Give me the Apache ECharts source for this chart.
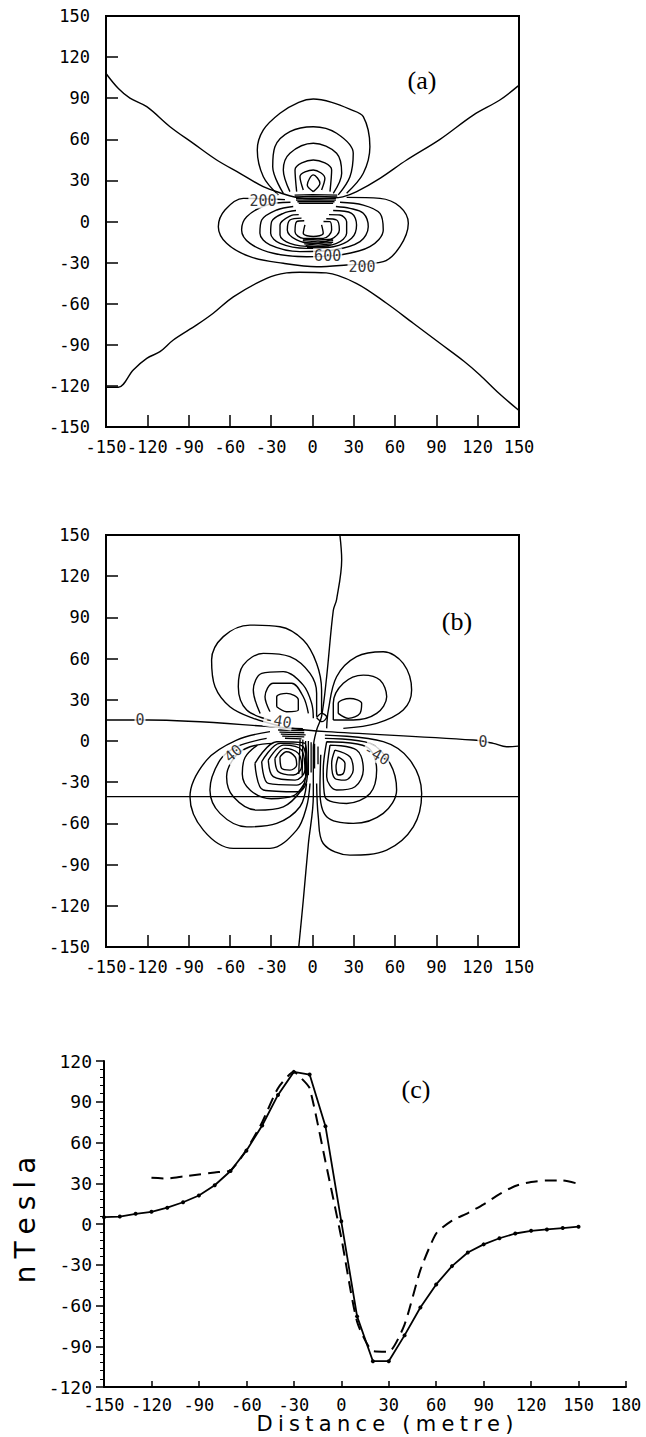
<!DOCTYPE html>
<html>
<head>
<meta charset="utf-8">
<script src="https://cdn.jsdelivr.net/npm/echarts@6/dist/echarts.min.js"></script>
<style>
  html, body { margin: 0; padding: 0; background: #fff; }
  #main { width: 646px; height: 1437px; }
</style>
</head>
<body>
<div id="main"></div>
<script>
// ---- panel (a): contour lines, [x, y] in metres ----
var aZeroUpper = [[-150,108],[-141,97],[-132.6,90],[-120.4,83.8],[-103.5,69.2],[-86.6,57],[-69.6,44.9],[-52.7,35.2],[-35.8,25.4],[-23.6,21],[-12,17.6],[0,16.5],[12,17],[22,18],[32.1,21.8],[49,31.5],[68.4,44.9],[92.6,60],[116.8,77.7],[136.1,88.7],[149.4,99]];
var aZeroLower = [[-150,-121],[-141,-121],[-130.2,-108.4],[-120.4,-99.9],[-110.8,-95],[-101.1,-86.5],[-84.1,-75.5],[-72.1,-67],[-57.5,-55],[-33.3,-41.5],[-18.8,-37.5],[-9.4,-37],[10,-37.5],[31.8,-45.1],[53.8,-59.7],[73.2,-74.3],[92.6,-88.9],[110,-102],[121.6,-112],[135,-125],[150,-138]];
var aUp1 = [[-24.8,19.4],[-35.7,32.7],[-40.1,52.2],[-35.7,66.8],[-23.6,79],[-10,87],[0.6,89.4],[14,87],[27,82],[36.9,76.5],[41.7,54.6],[36.9,35.2],[24.8,20.6]];
var aUp2 = [[-21.2,20.6],[-28.9,40],[-27.3,54.6],[-16.4,65.6],[0.6,69.2],[17.5,64.4],[29.6,49.8],[27.2,32.7],[18.7,19.4]];
var aUp3 = [[-16.4,21.8],[-21.2,37.6],[-16.4,49.8],[0.6,57.1],[17.5,49.8],[21.2,35.2],[15.1,20.6]];
var aUp4 = [[-11.5,21.8],[-12.7,37.6],[0.6,44.9],[13.9,37.6],[12.7,21.8]];
var aUp5 = [[-6.7,23],[-9.1,32.7],[0.6,37.6],[9,31.5],[6.6,23]];
var aUp6 = [[0.6,21.8],[-3.8,26.6],[0.6,34],[5.4,27.9],[0.6,21.8]];
var aLo1 = [[24.8,17.6],[49,16.9],[63.5,10.8],[69.6,-1.3],[63.5,-18.4],[51.4,-29.3],[24.8,-31.7],[3,-33],[-21.2,-30.5],[-45.4,-25.7],[-62.4,-15.9],[-68.4,-3.8],[-63.6,8.4],[-50.3,16.9],[-20,16]];
var aLo2 = [[20,14],[36.9,12],[49,5.9],[51.4,-6.2],[41.7,-18.4],[20,-24.4],[-4.3,-25.7],[-28.5,-23.2],[-45.4,-16],[-51.5,-6.2],[-47.8,3.5],[-33.3,12],[-16,14]];
var aLo3 = [[17,11],[27.2,9.6],[36.9,6],[40.5,-3.8],[34.5,-14.7],[15.1,-20.8],[-9.1,-22],[-30.9,-17.1],[-38.2,-8.6],[-36.9,1.1],[-26,8.4],[-14,11]];
var aLo4 = [[15,8],[28.4,6],[32,-2.5],[28.4,-12.3],[15.1,-18.4],[-4.3,-19.6],[-23.6,-16],[-30.4,-8.6],[-29.7,-0.1],[-21.2,6],[-12,8]];
var aLo5 = [[12,5],[20,4.7],[24.8,-0.1],[24.8,-8.6],[17.5,-16],[0.6,-18.4],[-16.4,-16],[-23.6,-9.8],[-23.6,-2.5],[-16.4,4],[-10,5]];
var aLo6 = [[10,2],[17.5,1.1],[19.5,-6.2],[12.7,-13.5],[0.6,-16],[-11.5,-13.5],[-18.3,-6.2],[-16.4,1.1],[-8,2.5]];
var aLo7 = [[8,0],[12.7,-0.1],[13.9,-6.2],[7.8,-12.3],[-6.7,-12.3],[-12.7,-7.4],[-11.5,-0.1],[-6,0.5]];
var aLo8 = [[6.6,-2.5],[7.8,-8.6],[0.6,-11],[-6.7,-8.6],[-5.5,-2.5]];
// dense bands where the contours crowd together
var aBandTop = [
    [[-13,19.2],[0,19.6],[18,19.2]], [[-13,18],[0,18.3],[18,18]], [[-12,16.8],[0,17],[17,16.8]],
    [[-12,15.6],[0,15.8],[17,15.6]], [[-11,14.4],[0,14.5],[16,14.4]], [[-10,13.2],[0,13.3],[15,13.2]]
];
var aBandBottom = [
    [[-7,-12.8],[4,-13.5],[15,-12.8]], [[-7,-14],[4,-14.8],[15,-14]], [[-7,-15.2],[4,-16],[15,-15.2]],
    [[-6,-16.4],[4,-17.2],[14,-16.4]], [[-5,-17.6],[4,-18.4],[13,-17.6]], [[-4,-18.8],[4,-19.5],[12,-18.8]]
];
var aLabels = [[-36,15,'200',0], [36,-33,'200',0], [11,-25,'600',0]];

// ---- panel (b) ----
var bVertical = [[19.9,150],[21.2,132],[17.5,103],[15.1,95],[10.3,47],[6.6,18],[3,8],[0.6,-5],[0.6,-40],[-3,-75],[-6.7,-116],[-10,-150]];
var bHorizontal = [[-150,15.3],[-119.3,15.3],[-23.6,10],[-5,8],[10.3,6.8],[116.8,0.7],[131.3,-1.7],[141,-4.2],[149.4,-3.7]];
var bFortyLine = [[-150,-40.5],[150,-40.5]];
var bUL1 = [[-23.6,10.9],[-43,16.5],[-60,25],[-70.8,39.5],[-73.3,58.9],[-64.8,76],[-45.4,84.4],[-23.6,83.2],[-6.7,73.5],[3,56.5],[6.6,37.1],[6.6,20.1]];
var bUL2 = [[-30,15],[-47.8,22.5],[-53.9,39.5],[-50.3,55.3],[-35.7,63.8],[-16.4,61.4],[-1.8,49.2],[3,34.7],[3,17.7]];
var bUL3 = [[-38,20],[-43,37.1],[-36.9,49.2],[-21.2,50.5],[-6.7,40.7],[-0.6,27.4],[0.6,16.5]];
var bUL4 = [[-30.9,21.3],[-34.5,32.2],[-28.5,42],[-15.2,42],[-6.7,32.2],[-3,20.1]];
var bUL5 = [[-26,24.9],[-26,32.2],[-18.8,34.7],[-10.3,29.8],[-10.3,22.5],[-18.8,21.3],[-26,24.9]];
var bUR1 = [[10.3,9.2],[11.5,22.5],[17.5,46.8],[32,61.4],[51.4,65],[65.9,56.5],[72,37.1],[65.9,22.5],[46.6,12.8],[22.4,9.2]];
var bUR2 = [[15.1,15.3],[15.1,27.4],[22.4,42],[36.9,48],[49,44.4],[53.9,32.2],[46.6,20.1],[29.6,15.3],[15.1,15.3]];
var bUR3 = [[18.7,20.1],[18.7,27.4],[27.2,31],[35.7,27.4],[34.5,20.1],[26,16.5],[18.7,20.1]];
var bLL1 = [[-30.9,6.8],[-55.1,0.7],[-76.9,-13.9],[-89,-40.6],[-79.3,-64.9],[-57.5,-78.2],[-30.9,-78.2],[-11.5,-64.9],[-4.3,-47.9],[-1.8,-30.9]];
var bLL2 = [[-33.3,1.9],[-55.1,-4.2],[-67.2,-13.9],[-74.5,-35.7],[-67.2,-52.7],[-47.8,-62.5],[-26,-60],[-9.1,-47.9],[-4.3,-30.9]];
var bLL3 = [[-28.5,-1.7],[-45.4,-4.2],[-56.3,-11.5],[-62.4,-26],[-57.5,-40.6],[-40.6,-50.3],[-21.2,-47.9],[-7.9,-35.7],[-5,-26]];
var bLL4 = [[-40,-3],[-49,-12],[-51,-24],[-45,-36],[-30,-42],[-14,-40],[-6,-31]];
var bLL5 = [[-41.8,-16.3],[-26,-0.5],[-5.5,-1.7],[-3.8,-26],[-10.3,-37],[-35.7,-35.7],[-41.8,-16.3]];
var bLL6 = [[-36.9,-15.1],[-23.6,-1.7],[-6.7,-4.2],[-4.3,-23.6],[-11.5,-32.1],[-32.1,-30.9],[-36.9,-15.1]];
var bLL7 = [[-32.1,-13.9],[-21.2,-3],[-7.9,-6.6],[-5.5,-21.2],[-12.7,-28.5],[-28.5,-26],[-32.1,-13.9]];
var bLL8 = [[-27.3,-12.7],[-20,-5.4],[-10.3,-9],[-7.9,-18.7],[-13.9,-24.8],[-24.8,-22.4],[-27.3,-12.7]];
var bLL9 = [[-23.6,-11.5],[-18.8,-7.8],[-12.7,-11.5],[-11.5,-17.5],[-16.4,-21.2],[-22.4,-20],[-23.6,-11.5]];
var bLR1 = [[18.7,-11.5],[23.6,-16.3],[22.4,-23.6],[18.7,-24.8],[17.1,-18.7],[18.7,-11.5]];
var bLR2 = [[16.3,-6.6],[27.2,-11.5],[29.6,-21.2],[23.6,-28.5],[16.3,-27.3],[13.9,-16.3],[16.3,-6.6]];
var bLR3 = [[12.7,-3],[32,-6.6],[36.9,-21.2],[30.9,-33.3],[17.5,-35.7],[10.3,-26],[12.7,-3]];
var bLR4 = [[10.3,-0.5],[39.3,-4.2],[46.6,-21.2],[41.8,-38.2],[24.8,-45.5],[9,-40.6],[7.8,-21.2],[10.3,-0.5]];
var bLR5 = [[9,1.9],[41.8,-1.7],[56.3,-16.3],[61.1,-35.7],[51.4,-52.7],[29.6,-60],[10.3,-55.2],[5.4,-35.7],[6,-10]];
var bLR6 = [[9,4.3],[51.4,-0.5],[70.8,-13.9],[79.3,-38.2],[73.2,-62.5],[53.9,-79.4],[27.2,-83.1],[7.8,-74.6],[4.2,-55.2],[3,-30.9]];
var bSmallZero = [[3,17],[6.6,20.1],[10.3,17.5],[7,14.1],[3,17]];
// dense clusters near the centre of (b)
var bCluster = [
    [[-24,9.5],[-7,9]], [[-25,8],[-6,7.5]], [[-24,6.5],[-6,6]], [[-23,5],[-5,4.5]], [[-22,3.5],[-6,3]], [[-20,2],[-8,1.5]],
    [[-9,1],[-10,-24]], [[-7,1],[-7.5,-25]], [[-5,0],[-5,-26]], [[-3,0],[-3,-25]], [[-1,-1],[-1,-23]], [[1.5,-2],[1.5,-20]], [[4,-4],[4,-17]]
];
var bLabels = [[-125.3,15.3,'0',0], [123.8,-1,'0',0], [-57.5,-9,'40',40], [46.6,-10,'-40',-30], [-25,14.6,'-40',-10]];

// ---- panel (c): profile along the line ----
var distance = [-150,-140,-130,-120,-110,-100,-90,-80,-70,-60,-50,-40,-30,-20,-10,0,10,20,30,40,50,60,70,80,90,100,110,120,130,140,150];
var solidField = [5,5.5,7.5,9,12,16,21,28.5,39,54,72.5,95,112,110,72,2,-68,-101,-101,-82,-61.5,-44.5,-31,-21,-15,-10.5,-7,-5,-4,-3,-2];
var dashedDistance = [-120,-110,-100,-90,-80,-70,-60,-50,-40,-30,-25,-20,-10,0,10,20,30,40,50,60,70,80,90,100,110,120,130,140,150];
var dashedField = [34,33.5,35,36.5,38,39.5,54.5,75,100,112,107,100,46,-10,-72,-93.5,-94,-74,-34,-7,2.5,8,14.5,22,28,31,32,32,29.5];

var contoursA = [aZeroUpper, aZeroLower, aUp1, aUp2, aUp3, aUp4, aUp5, aUp6, aLo1, aLo2, aLo3, aLo4, aLo5, aLo6, aLo7, aLo8];
var contoursB = [bVertical, bHorizontal, bFortyLine, bUL1, bUL2, bUL3, bUL4, bUL5, bUR1, bUR2, bUR3,
  bLL1, bLL2, bLL3, bLL4, bLL5, bLL6, bLL7, bLL8, bLL9, bLR1, bLR2, bLR3, bLR4, bLR5, bLR6, bSmallZero];

var myChart = echarts.init(document.getElementById('main'), null, { renderer: 'svg' });

var mono = 'DejaVu Sans Mono';

function contourSeries(list, idx, smooth, w) {
    return list.map(function (pts) {
        return {
            type: 'line', xAxisIndex: idx, yAxisIndex: idx,
            data: pts, showSymbol: false, smooth: smooth,
            lineStyle: { color: '#000', width: w },
            silent: true, z: 2
        };
    });
}
function labelSeries(list, idx) {
    return {
        type: 'scatter', xAxisIndex: idx, yAxisIndex: idx, symbolSize: 0, z: 5,
        data: list.map(function (l) {
            return { value: [l[0], l[1]], label: { formatter: l[2], rotate: l[3] } };
        }),
        label: {
            show: true, position: 'inside', color: '#000', fontFamily: mono, fontSize: 15,
            backgroundColor: '#fff', padding: [0, 1]
        }
    };
}

function squareAxis(gi, margin) {
    return {
        gridIndex: gi, type: 'value', min: -150, max: 150, interval: 30,
        axisLine: { onZero: false, lineStyle: { color: '#000', width: 2 } },
        axisTick: { inside: true, length: 12, lineStyle: { color: '#000', width: 1.5 } },
        axisLabel: { color: '#000', fontFamily: mono, fontSize: 17, margin: margin },
        splitLine: { show: false }
    };
}

var option = {
    animation: false,
    backgroundColor: '#fff',
    grid: [
        { left: 106, top: 16, width: 413, height: 411, show: true, borderColor: '#000', borderWidth: 2 },
        { left: 106, top: 535, width: 413, height: 412, show: true, borderColor: '#000', borderWidth: 2 },
        { left: 104, top: 1061, width: 522, height: 326 }
    ],
    xAxis: [
        squareAxis(0, 11),
        squareAxis(1, 11),
        {
            gridIndex: 2, type: 'value', min: -150, max: 180, interval: 30,
            axisLine: { onZero: false, lineStyle: { color: '#000', width: 2 } },
            axisTick: { inside: true, length: 6, lineStyle: { color: '#000', width: 1.5 } },
            axisLabel: { color: '#000', fontFamily: mono, fontSize: 17, margin: 9 },
            splitLine: { show: false }
        }
    ],
    yAxis: [
        squareAxis(0, 16),
        squareAxis(1, 16),
        {
            gridIndex: 2, type: 'value', min: -120, max: 120, interval: 30,
            axisLine: { onZero: false, lineStyle: { color: '#000', width: 2 } },
            axisTick: { length: 8, lineStyle: { color: '#000', width: 1.5 } },
            minorTick: { show: true, splitNumber: 5, length: 4, lineStyle: { color: '#000', width: 1 } },
            axisLabel: { color: '#000', fontFamily: mono, fontSize: 18, margin: 12 },
            splitLine: { show: false }
        }
    ],
    graphic: [
        { type: 'text', x: 422, y: 80, style: { text: '(a)', font: '26px "Liberation Serif"', fill: '#000', align: 'center', verticalAlign: 'middle' } },
        { type: 'text', x: 457, y: 621, style: { text: '(b)', font: '26px "Liberation Serif"', fill: '#000', align: 'center', verticalAlign: 'middle' } },
        { type: 'text', x: 416, y: 1089, style: { text: '(c)', font: '26px "Liberation Serif"', fill: '#000', align: 'center', verticalAlign: 'middle' } },
        { type: 'text', x: 25, y: 1220, rotation: Math.PI / 2, style: { text: 'n\u2005T\u2005e\u2005s\u2005l\u2005a', font: '28px "DejaVu Sans"', fill: '#000', align: 'center', verticalAlign: 'middle' } },
        { type: 'text', x: 385, y: 1424, style: { text: 'D\u2005i\u2005s\u2005t\u2005a\u2005n\u2005c\u2005e\u2005 \u2005(\u2005m\u2005e\u2005t\u2005r\u2005e\u2005)', font: '21px "DejaVu Sans"', fill: '#000', align: 'center', verticalAlign: 'middle' } }
    ],
    series: [].concat(
        contourSeries(contoursA, 0, 0.35, 1.4),
        contourSeries(aBandTop.concat(aBandBottom), 0, 0, 1.3),
        [labelSeries(aLabels, 0)],
        contourSeries(contoursB, 1, 0.35, 1.4),
        contourSeries(bCluster, 1, 0, 1.3),
        [labelSeries(bLabels, 1)],
        [
            {
                name: 'observed', type: 'line', xAxisIndex: 2, yAxisIndex: 2,
                data: distance.map(function (d, i) { return [d, solidField[i]]; }),
                symbol: 'circle', symbolSize: 4, itemStyle: { color: '#000' },
                lineStyle: { color: '#000', width: 1.8 }
            },
            {
                name: 'computed', type: 'line', xAxisIndex: 2, yAxisIndex: 2,
                data: dashedDistance.map(function (d, i) { return [d, dashedField[i]]; }),
                showSymbol: false, smooth: 0.2,
                lineStyle: { color: '#000', width: 2, type: [12, 7] }
            }
        ]
    )
};
myChart.setOption(option);
</script>
</body>
</html>
